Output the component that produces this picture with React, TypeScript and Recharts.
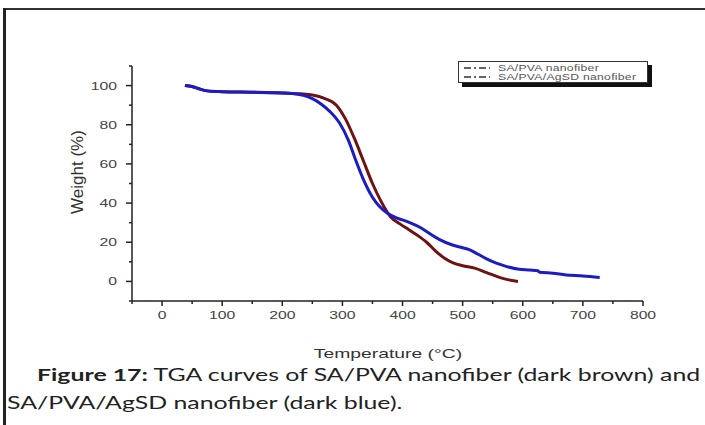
import { LineChart, Line, XAxis, YAxis, Legend } from "recharts";

// SA/PVA nanofiber (dark brown)
const saPvaTemp = [38, 50, 60, 75, 100, 150, 200, 230, 250, 270, 290, 305, 320, 335, 350, 365, 380, 395, 410, 425, 440, 455, 470, 485, 500, 520, 540, 560, 575, 592];
const saPvaWeight = [100, 99.5, 98.5, 97.3, 96.9, 96.6, 96.2, 95.8, 95.2, 93.5, 90, 83, 73, 61.5, 50, 40.5, 33, 29.5, 26.5, 23.5, 20, 15.5, 11.8, 9.3, 8, 6.8, 4.5, 2.2, 0.9, 0];

// SA/PVA/AgSD nanofiber (dark blue)
const agsdTemp = [38, 50, 60, 75, 100, 150, 200, 217, 235, 250, 265, 280, 295, 310, 322, 335, 350, 361, 375, 390, 411, 428, 445, 461, 483, 500, 511, 525, 539, 556, 572, 594, 612, 625, 628, 650, 672, 700, 728];
const agsdWeight = [100, 99.5, 98.5, 97.3, 96.9, 96.6, 96.2, 96, 95, 93.3, 90.5, 86.5, 81, 72, 62, 52, 43, 38.5, 34.8, 32.5, 30.2, 27.8, 24.5, 21.5, 18.6, 17.2, 16.2, 14, 11.6, 9.3, 7.7, 6.2, 5.8, 5.4, 4.7, 4.2, 3.3, 2.8, 2.0];

const xTicks = [-50, 0, 50, 100, 150, 200, 250, 300, 350, 400, 450, 500, 550, 600, 650, 700, 750, 800];
const yTicks = [-10, 0, 10, 20, 30, 40, 50, 60, 70, 80, 90, 100, 110];
const seriesNames = ["SA/PVA nanofiber", "SA/PVA/AgSD nanofiber"];

const saPvaData = saPvaTemp.map((t, i) => ({ t, w: saPvaWeight[i] }));
const agsdData = agsdTemp.map((t, i) => ({ t, w: agsdWeight[i] }));

const BROWN = "#6e1212";
const BLUE = "#1c1cc4";
const tickFont = "'Liberation Sans', Arial, sans-serif";
// the source figure is stretched sideways
const STRETCH = 1.43;

function XTick({ x, y, payload }: any) {
  const v = payload.value;
  const major = v % 100 === 0;
  return (
    <g>
      <line x1={x} x2={x} y1={y} y2={y + (major ? 5 : 3)} stroke="#222" strokeWidth={1.5} />
      {major && (
        <text transform={`translate(${x},${y + 18}) scale(${STRETCH},1)`} textAnchor="middle" fontSize={11} fill="#444" fontFamily={tickFont}>
          {v}
        </text>
      )}
    </g>
  );
}

function YTick({ x, y, payload }: any) {
  const v = payload.value;
  const major = v % 20 === 0 && v >= 0 && v <= 100;
  return (
    <g>
      <line x1={x} x2={x - (major ? 6 : 3)} y1={y} y2={y} stroke="#222" strokeWidth={1.5} />
      {major && (
        <text transform={`translate(${x - 15},${y + 4}) scale(${STRETCH},1)`} textAnchor="end" fontSize={11} fill="#444" fontFamily={tickFont}>
          {v}
        </text>
      )}
    </g>
  );
}

function LegendBox() {
  return (
    <div style={{ position: "relative", width: 190, height: 22 }}>
      <div style={{ position: "absolute", left: 4, top: 4, width: 190, height: 22, background: "#111" }} />
      <div style={{ position: "absolute", left: 0, top: 0, width: 188, height: 20, background: "#fff", border: "1px solid #333" }}>
        {seriesNames.map((name, i) => (
          <div key={name} style={{ display: "flex", alignItems: "center", height: 9.5, marginTop: i === 0 ? 1 : 0 }}>
            <svg width={34} height={8} style={{ marginLeft: 3 }}>
              <line x1={2} x2={28} y1={4} y2={4} stroke="#333" strokeWidth={1.3} strokeDasharray="7 3 2 3" />
            </svg>
            <span
              style={{
                fontFamily: tickFont,
                fontSize: 8.5,
                color: "#555",
                letterSpacing: 0.2,
                marginLeft: 2,
                whiteSpace: "nowrap",
                display: "inline-block",
                transform: `scaleX(${STRETCH})`,
                transformOrigin: "left center",
              }}
            >
              {name}
            </span>
          </div>
        ))}
      </div>
    </div>
  );
}

export default function App() {
  const captionStyle = {
    position: "absolute" as const,
    fontFamily: "Lato, 'Open Sans', sans-serif",
    fontSize: 17.5,
    lineHeight: "22px",
    color: "#222",
    whiteSpace: "nowrap" as const,
    transform: "scaleX(1.42)",
    transformOrigin: "left center",
  };
  return (
    <div style={{ position: "relative", width: 705, height: 425, overflow: "hidden", background: "#fff" }}>
      <style>{"body{margin:0}"}</style>
      <div style={{ position: "absolute", left: 0, top: 0 }}>
        <LineChart width={705} height={425} margin={{ top: 44, right: 62, bottom: 94, left: 72 }}>
          <XAxis
            type="number"
            dataKey="t"
            domain={[-50, 800]}
            ticks={xTicks}
            interval={0}
            allowDataOverflow
            axisLine={{ stroke: "#222", strokeWidth: 1.5 }}
            tickLine={false}
            tickSize={0}
            tickMargin={0}
            tick={<XTick />}
            height={30}
          />
          <YAxis
            type="number"
            dataKey="w"
            domain={[-10, 110]}
            ticks={yTicks}
            interval={0}
            allowDataOverflow
            axisLine={{ stroke: "#222", strokeWidth: 1.5 }}
            tickLine={false}
            tickSize={0}
            tickMargin={0}
            tick={<YTick />}
            width={60}
          />
          <Legend
            verticalAlign="top"
            align="left"
            wrapperStyle={{ position: "absolute", left: 458, top: 61, width: 194 }}
            content={() => <LegendBox />}
          />
          <Line data={saPvaData} dataKey="w" name={seriesNames[0]} type="monotone" stroke={BROWN} strokeWidth={3} dot={false} isAnimationActive={false} />
          <Line data={agsdData} dataKey="w" name={seriesNames[1]} type="monotone" stroke={BLUE} strokeWidth={3} dot={false} isAnimationActive={false} />
        </LineChart>
      </div>
      {/* page frame: top and left edges */}
      <div style={{ position: "absolute", left: 3, top: 8, width: 702, height: 2, background: "#333", zIndex: 5 }} />
      <div style={{ position: "absolute", left: 3, top: 8, width: 3, height: 417, background: "#222", zIndex: 5 }} />
      <div
        style={{
          position: "absolute",
          left: 78,
          top: 172,
          transform: "translate(-50%, -50%) rotate(-90deg)",
          fontFamily: "'Liberation Sans Narrow', 'Liberation Sans', Arial, sans-serif",
          fontSize: 17,
          color: "#333",
          whiteSpace: "nowrap",
        }}
      >
        Weight (%)
      </div>
      <div
        style={{
          position: "absolute",
          left: 388,
          top: 353,
          transform: `translate(-50%, -50%) scaleX(${STRETCH})`,
          fontFamily: tickFont,
          fontSize: 13.5,
          color: "#333",
          whiteSpace: "nowrap",
        }}
      >
        Temperature (°C)
      </div>
      <div style={{ ...captionStyle, left: 37, top: 364 }}>
        <b>Figure 17:</b> TGA curves of SA/PVA nanofiber (dark brown) and
      </div>
      <div style={{ ...captionStyle, left: 7, top: 392 }}>SA/PVA/AgSD nanofiber (dark blue).</div>
    </div>
  );
}
